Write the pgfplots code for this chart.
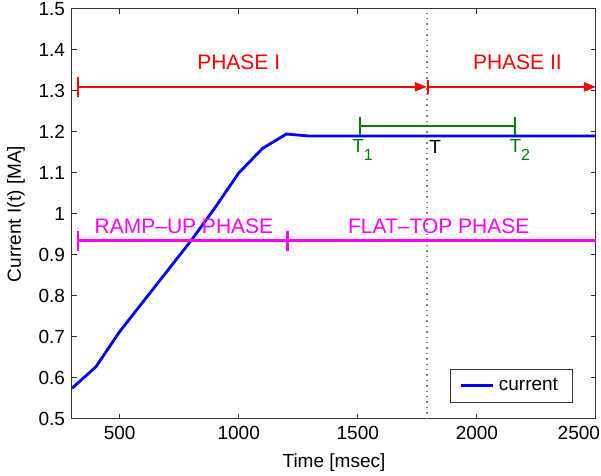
\documentclass[border=0pt]{standalone}
\usepackage{fontspec}
\setmainfont{Liberation Sans}
\usepackage{pgfplots}
\pgfplotsset{compat=1.18}
\usetikzlibrary{arrows.meta,calc}
\definecolor{mgreen}{rgb}{0,0.5,0}
\definecolor{mmag}{rgb}{1,0,1}
\definecolor{mred}{rgb}{1,0,0}
\definecolor{mblue}{rgb}{0,0,1}
\newcommand{\sub}[1]{\raisebox{-0.8ex}{\fontsize{8}{9}\selectfont #1}}

\begin{document}
\begin{tikzpicture}
\begin{axis}[
    width=262pt, height=205pt, scale only axis,
    xmin=300, xmax=2500, ymin=0.5, ymax=1.5,
    xtick={500,1000,1500,2000,2500},
    xticklabels={500,1000,1500,2000,\makebox[4pt][r]{2500}},
    ytick={0.5,0.6,0.7,0.8,0.9,1,1.1,1.2,1.3,1.4,1.5},
    /pgf/number format/assume math mode=true,
    /pgf/number format/1000 sep={},
    tick align=inside, major tick length=2.5pt,
    axis line style={black!80, line width=0.5pt},
    tick style={black!80, line width=0.5pt},
    ticklabel style={font=\fontsize{9.5}{10}\selectfont},
    label style={font=\fontsize{9.5}{10}\selectfont},
    xlabel={Time [msec]},
    ylabel={Current I(t) [MA]},
    legend style={at={(0.955,0.04)}, anchor=south east, draw=black!80,
      font=\fontsize{9.5}{10}\selectfont, inner xsep=5pt, inner ysep=2.5pt},
    legend cell align=left,
    legend image code/.code={\draw[#1] (0pt,0pt) -- (16pt,0pt);},
    clip=false,
]
% current waveform
\addplot[mblue, line width=1.4pt] coordinates {
  (300,0.575) (400,0.627) (500,0.713) (600,0.787) (700,0.861)
  (800,0.935) (900,1.015) (1000,1.100) (1100,1.160) (1200,1.195)
  (1300,1.190) (1600,1.190) (2000,1.190) (2500,1.190)};
\addlegendentry{current}

% T marker
\addplot[gray, dotted, line width=0.7pt, forget plot] coordinates {(1790,0.5) (1790,1.5)};

% phase I / II arrows
\addplot[mred, line width=1pt, {Bar[width=10pt]}-{Triangle[length=6pt,width=4.5pt]}, forget plot]
  coordinates {(320,1.31) (1790,1.31)};
\addplot[mred, line width=1pt, {Bar[width=7pt]}-{Triangle[length=6pt,width=4.5pt]}, forget plot]
  coordinates {(1790,1.31) (2500,1.31)};

% T1 -- T2 window
\addplot[mgreen, line width=1pt, {Bar[width=9pt]}-{Bar[width=9pt]}, forget plot]
  coordinates {(1505,1.215) (2165,1.215)};

% ramp-up / flat-top
\addplot[mmag, line width=1.2pt, {Bar[width=10pt]}-{Bar[width=10pt]}, forget plot]
  coordinates {(320,0.935) (1210,0.935)};
\addplot[mmag, line width=1.2pt, forget plot]
  coordinates {(1210,0.935) (2500,0.935)};

\node[mred, font=\fontsize{10.5}{12}\selectfont] at (axis cs:1000,1.37) {PHASE I};
\node[mred, font=\fontsize{10.5}{12}\selectfont] at (axis cs:2170,1.37) {PHASE II};
\node[mmag, font=\fontsize{10.5}{12}\selectfont] at (axis cs:770,0.97) {RAMP{\textendash}UP PHASE};
\node[mmag, font=\fontsize{10.5}{12}\selectfont] at (axis cs:1840,0.97) {FLAT{\textendash}TOP PHASE};
\node[mgreen, font=\fontsize{9.5}{10}\selectfont] at (axis cs:1520,1.155) {T\sub{1}};
\node[black, font=\fontsize{9.5}{10}\selectfont] at (axis cs:1825,1.163) {T};
\node[mgreen, font=\fontsize{9.5}{10}\selectfont] at (axis cs:2180,1.155) {T\sub{2}};
\end{axis}
\pgfresetboundingbox
\useasboundingbox ($(current axis.south west)+(-36pt,-28.5pt)$) rectangle ($(current axis.north east)+(2.5pt,4.5pt)$);
\end{tikzpicture}
\end{document}
